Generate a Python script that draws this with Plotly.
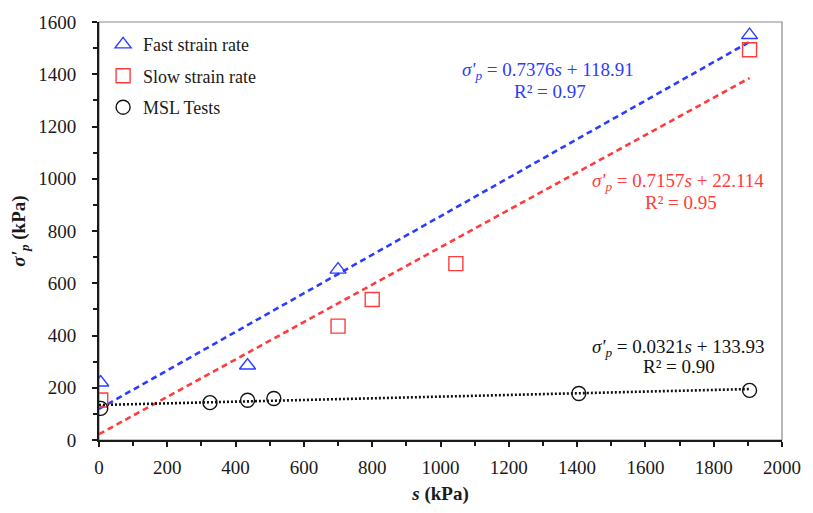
import plotly.graph_objects as go

# ---------------- data ----------------
fast_s = [5, 435, 700, 1905]
fast_sigma = [220, 285, 652, 1550]

slow_s = [5, 700, 800, 1045, 1905]
slow_sigma = [153, 436, 538, 675, 1494]

msl_s = [5, 325, 435, 512, 1405, 1905]
msl_sigma = [121, 143, 152, 159, 178, 190]

series_names = ["Fast strain rate", "Slow strain rate", "MSL Tests"]
fit_slopes = [0.7376, 0.7157, 0.0321]
fit_intercepts = [118.91, 22.114, 133.93]
fit_r2 = ["0.97", "0.95", "0.90"]
fit_s_range = [0, 1905]

x_ticks = [0, 200, 400, 600, 800, 1000, 1200, 1400, 1600, 1800, 2000]
y_ticks = [0, 200, 400, 600, 800, 1000, 1200, 1400, 1600]

# ---------------- style ----------------
FONT = "Liberation Serif"
BLUE = "#2b3cff"
RED = "#ff3b3b"
BLACK = "#111111"
TXT = "#1a1a1a"

fig = go.Figure()

# trend lines from the fitted equations
line_styles = [
    dict(color=BLUE, width=2.6, dash="6px,4px"),
    dict(color=RED, width=2.6, dash="6px,4px"),
    dict(color=BLACK, width=2.6, dash="2px,2px"),
]
for m, c, ls in zip(fit_slopes, fit_intercepts, line_styles):
    fig.add_trace(go.Scatter(
        x=fit_s_range, y=[m * s + c for s in fit_s_range],
        mode="lines", line=ls, showlegend=False, hoverinfo="skip"))

# data points
marker_specs = [("triangle-up-open", BLUE), ("square-open", RED), ("circle-open", BLACK)]
for i, (sx, sy) in enumerate([(fast_s, fast_sigma), (slow_s, slow_sigma), (msl_s, msl_sigma)]):
    sym, col = marker_specs[i]
    fig.add_trace(go.Scatter(
        x=sx, y=sy, mode="markers", name=series_names[i], legendgroup=f"g{i}",
        marker=dict(symbol=sym, size=14, color=col, line=dict(width=1.4))))

# equations (equation line and R² line placed separately)
eq_pos = [((1314, 1414), (1320, 1334), BLUE),
          ((1696, 986), (1704, 910), RED),
          ((1696, 353), (1699, 280), BLACK)]
for (p_eq, p_r2, col), m, c, r2 in zip(eq_pos, fit_slopes, fit_intercepts, fit_r2):
    fig.add_annotation(x=p_eq[0], y=p_eq[1], xref="x", yref="y",
                       text=f"<i>σ'</i><sub><i>p</i></sub> = {m}<i>s</i> + {c}",
                       showarrow=False, font=dict(family=FONT, size=19, color=col),
                       xanchor="center", yanchor="middle")
    fig.add_annotation(x=p_r2[0], y=p_r2[1], xref="x", yref="y",
                       text=f"R² = {r2}",
                       showarrow=False, font=dict(family=FONT, size=19, color=col),
                       xanchor="center", yanchor="middle")

# frame (light top/right border)
fig.add_shape(type="rect", xref="paper", yref="paper", x0=0, y0=0, x1=1, y1=1,
              line=dict(color="#8a8a8a", width=1.2), layer="below")

axis_common = dict(
    showgrid=False, zeroline=False, showline=True, linecolor=TXT, linewidth=2,
    ticks="outside", ticklen=5, tickwidth=1.5, tickcolor=TXT,
    tickfont=dict(family=FONT, size=19, color=TXT),
)
fig.update_xaxes(range=[0, 2000], tickvals=x_ticks, ticklabelstandoff=4,
                 minor=dict(dtick=100, ticks="outside", ticklen=4, tickwidth=1.5, tickcolor=TXT),
                 title=dict(text="<b><i>s</i> (kPa)</b>", font=dict(family=FONT, size=19, color=TXT), standoff=10),
                 **axis_common)
fig.update_yaxes(range=[0, 1600], tickvals=y_ticks, ticklabelstandoff=12,
                 minor=dict(dtick=100, ticks="outside", ticklen=4, tickwidth=1.5, tickcolor=TXT),
                 title=dict(text="<b><i>σ'</i><sub><i>p</i></sub> (kPa)</b>", font=dict(family=FONT, size=19, color=TXT), standoff=8),
                 **axis_common)

fig.update_layout(
    width=813, height=513,
    margin=dict(l=99, r=23, t=21, b=70),
    paper_bgcolor="white", plot_bgcolor="white",
    font=dict(family=FONT),
    showlegend=True,
    legend=dict(x=0.006, y=0.99, xanchor="left", yanchor="top",
                font=dict(family=FONT, size=18, color=TXT),
                bgcolor="rgba(0,0,0,0)", itemwidth=30, tracegroupgap=5),
)

fig.write_html("out.html")
